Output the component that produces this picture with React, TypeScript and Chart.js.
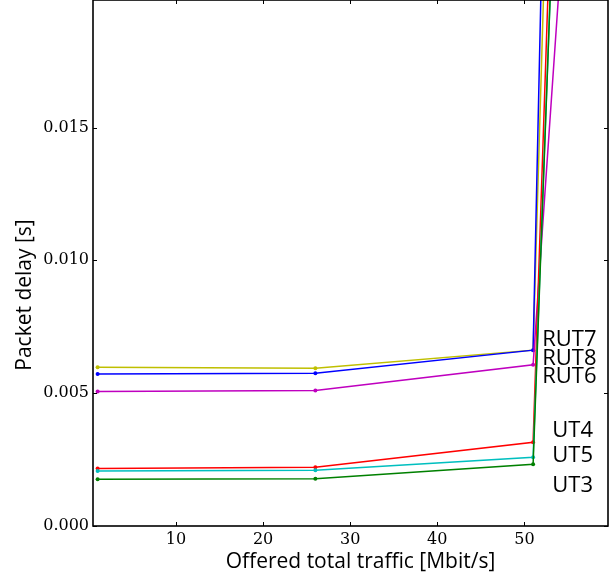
import React, { useEffect, useRef } from 'react';
import { Chart, registerables } from 'chart.js';

Chart.register(...registerables);

// Offered total traffic [Mbit/s]
const offeredTraffic = [1, 26, 51, 76];

// Packet delay [s] per user terminal
const delayRUT7 = [0.00598, 0.00594, 0.00662, 0.285];
const delayRUT8 = [0.00572, 0.00575, 0.00662, 0.38];
const delayRUT6 = [0.00506, 0.0051, 0.00607, 0.125];
const delayUT4 = [0.00216, 0.00221, 0.00315, 0.25];
const delayUT5 = [0.00207, 0.0021, 0.00259, 0.224];
const delayUT3 = [0.00176, 0.00178, 0.00232, 0.227];

const seriesNames = ['UT3', 'UT5', 'UT4', 'RUT6', 'RUT8', 'RUT7'];
const seriesValues = [delayUT3, delayUT5, delayUT4, delayRUT6, delayRUT8, delayRUT7];
const seriesColors = ['#008000', '#00bfbf', '#ff0000', '#bf00bf', '#0000ff', '#bfbf00'];

// In-plot text labels (data coordinates of text baseline-left)
const labelTexts = ['RUT7', 'RUT8', 'RUT6', 'UT4', 'UT5', 'UT3'];
const labelXs = [52.05, 52.05, 52.05, 53.2, 53.2, 53.2];
const labelYs = [0.00676, 0.00607, 0.00539, 0.00336, 0.00242, 0.00129];

const xTickValues = [10, 20, 30, 40, 50];
const yTickValues = [0, 0.005, 0.01, 0.015];

const X_MIN = 0.47;
const X_MAX = 59.6;
const Y_MIN = 0;
const Y_MAX = 0.0198;

const framePlugin = {
  id: 'frameAndLabels',
  afterDraw(chart: any) {
    const { ctx, chartArea } = chart;
    const { left, right, top, bottom } = chartArea;
    const xs = chart.scales.x;
    const ys = chart.scales.y;
    ctx.save();
    // inward ticks on all sides
    ctx.strokeStyle = '#000';
    ctx.lineWidth = 1;
    ctx.beginPath();
    xTickValues.forEach((v) => {
      const px = Math.round(xs.getPixelForValue(v)) + 0.5;
      ctx.moveTo(px, bottom);
      ctx.lineTo(px, bottom - 4);
      ctx.moveTo(px, top);
      ctx.lineTo(px, top + 4);
    });
    yTickValues.forEach((v) => {
      const py = Math.round(ys.getPixelForValue(v)) + 0.5;
      ctx.moveTo(left, py);
      ctx.lineTo(left + 4, py);
      ctx.moveTo(right, py);
      ctx.lineTo(right - 4, py);
    });
    ctx.stroke();
    // frame
    ctx.lineWidth = 1.6;
    ctx.strokeRect(left, top, right - left, bottom - top);
    // series labels
    ctx.fillStyle = '#000';
    ctx.font = '22px "Open Sans"';
    ctx.textAlign = 'left';
    ctx.textBaseline = 'alphabetic';
    labelTexts.forEach((t, i) => {
      ctx.fillText(t, xs.getPixelForValue(labelXs[i]), ys.getPixelForValue(labelYs[i]));
    });
    // axis titles
    ctx.font = '21px "Open Sans"';
    ctx.textAlign = 'center';
    ctx.textBaseline = 'middle';
    ctx.fillText('Offered total traffic [Mbit/s]', (left + right) / 2 + 10, bottom + 36);
    ctx.save();
    ctx.translate(left - 68, (top + bottom) / 2 + 32);
    ctx.rotate(-Math.PI / 2);
    ctx.fillText('Packet delay [s]', 0, 0);
    ctx.restore();
    ctx.restore();
  },
};

export default function App() {
  const canvasRef = useRef<HTMLCanvasElement | null>(null);

  useEffect(() => {
    if (!canvasRef.current) return;
    const datasets = seriesValues.map((vals, i) => ({
      label: seriesNames[i],
      data: offeredTraffic.map((xv, j) => ({ x: xv, y: vals[j] })),
      borderColor: seriesColors[i],
      backgroundColor: seriesColors[i],
      pointBackgroundColor: seriesColors[i],
      pointBorderColor: seriesColors[i],
      borderWidth: 1.5,
      pointRadius: 2,
      pointBorderWidth: 0,
      tension: 0,
    }));
    const chart = new Chart(canvasRef.current, {
      type: 'line',
      data: { datasets },
      options: {
        animation: false,
        responsive: false,
        layout: { autoPadding: false, padding: { left: 0, right: 8, top: 0, bottom: 0 } },
        plugins: { legend: { display: false }, tooltip: { enabled: false } },
        scales: {
          x: {
            type: 'linear',
            min: X_MIN,
            max: X_MAX,
            grid: { display: false, drawTicks: false },
            border: { display: false },
            ticks: {
              stepSize: 10,
              includeBounds: false,
              color: '#000',
              font: { family: 'DejaVu Serif', size: 16 },
              padding: 4,
              maxRotation: 0,
            },
            afterFit: (s: any) => {
              s.height = 53;
              s.paddingLeft = 0;
              s.paddingRight = 0;
            },
          },
          y: {
            type: 'linear',
            min: Y_MIN,
            max: Y_MAX,
            grid: { display: false, drawTicks: false },
            border: { display: false },
            ticks: {
              stepSize: 0.005,
              includeBounds: false,
              color: '#000',
              font: { family: 'DejaVu Serif', size: 16 },
              padding: 4,
              callback: (v: any) => Number(v).toFixed(3),
            },
            afterFit: (s: any) => {
              s.width = 93;
              s.paddingTop = 0;
              s.paddingBottom = 0;
            },
          },
        },
      },
      plugins: [framePlugin],
    });
    return () => chart.destroy();
  }, []);

  return (
    <div style={{ position: 'fixed', left: 0, top: 0, width: 616, height: 579, background: '#fff' }}>
      <canvas ref={canvasRef} width={616} height={579} style={{ display: 'block' }} />
    </div>
  );
}
